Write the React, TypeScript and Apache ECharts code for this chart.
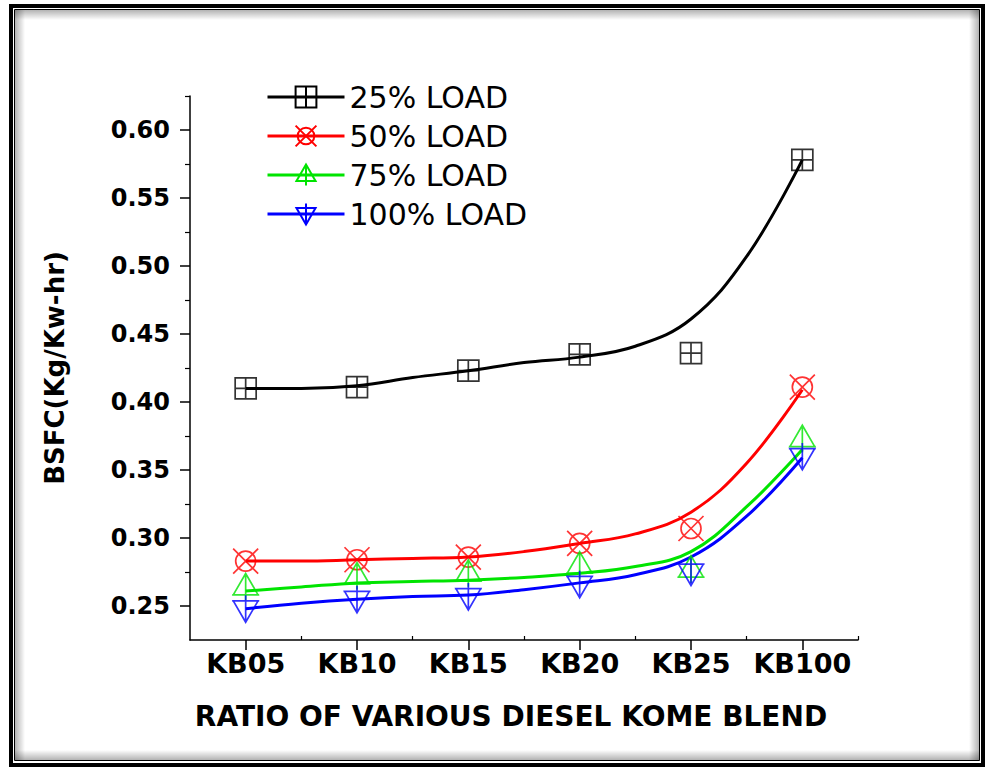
import { useEffect, useRef } from "react";
import * as echarts from "echarts";

// Blend ratios on the horizontal axis
const categories = ["KB05", "KB10", "KB15", "KB20", "KB25", "KB100"];
const loadNames = ["25% LOAD", "50% LOAD", "75% LOAD", "100% LOAD"];

// Measured brake specific fuel consumption (Kg/Kw-hr)
const load25 = [0.41, 0.411, 0.423, 0.435, 0.436, 0.578];
const load50 = [0.283, 0.284, 0.286, 0.296, 0.307, 0.411];
const load75 = [0.264, 0.272, 0.274, 0.28, 0.277, 0.373];
const load100 = [0.248, 0.255, 0.257, 0.266, 0.275, 0.36];

// Fitted trend curves, sampled at half-category steps
const fitPositions = [0, 0.5, 1, 1.5, 2, 2.5, 3, 3.5, 4, 4.5, 5];
const fit25 = [0.41, 0.41, 0.412, 0.418, 0.423, 0.429, 0.433, 0.441, 0.461, 0.507, 0.578];
const fit50 = [0.283, 0.283, 0.284, 0.285, 0.286, 0.29, 0.296, 0.303, 0.319, 0.355, 0.409];
const fit75 = [0.261, 0.264, 0.267, 0.268, 0.269, 0.271, 0.274, 0.279, 0.29, 0.323, 0.365];
const fit100 = [0.248, 0.252, 0.255, 0.257, 0.258, 0.262, 0.267, 0.273, 0.286, 0.316, 0.359];

// Axis ticks
const yMajorTicks = [0.25, 0.3, 0.35, 0.4, 0.45, 0.5, 0.55, 0.6];
const yMinorTicks = [0.275, 0.325, 0.375, 0.425, 0.475, 0.525, 0.575, 0.625];
const xMajorTicks = [0, 1, 2, 3, 4, 5];
const xMinorTicks = [0.5, 1.5, 2.5, 3.5, 4.5, 5.5];

const FONT = "DejaVu Sans";
const colors = ["#000000", "#ff0000", "#00e400", "#0000ff"];
const symbols = [
  "path://M0,0L20,0L20,20L0,20Z M10,0L10,20 M0,10L20,10",
  "path://M0,0L20,20 M20,0L0,20 M2,10A8,8,0,1,1,18,10A8,8,0,1,1,2,10Z",
  "path://M12,0L1,19L23,19Z M0,19L24,19 M12,0L12,24",
  "path://M12,24L1,5L23,5Z M0,5L24,5 M12,0L12,24",
];
const symbolSizes: (number | number[])[] = [21, 25, [27, 27], [27, 27]];

export default function App() {
  const ref = useRef<HTMLDivElement>(null);

  useEffect(() => {
    if (!ref.current) return;
    const chart = echarts.init(ref.current, undefined, { renderer: "svg" });

    const measured = [load25, load50, load75, load100];
    const fits = [fit25, fit50, fit75, fit100];

    const lineSeries = loadNames.map((name, i) => ({
      name,
      type: "line",
      xAxisIndex: 0,
      yAxisIndex: 0,
      data: fitPositions.map((p, k) => [p, fits[i][k]]),
      smooth: 0.4,
      showSymbol: false,
      symbol: symbols[i],
      symbolSize: symbolSizes[i],
      lineStyle: { color: colors[i], width: 3 },
      itemStyle: { color: "rgba(0,0,0,0)", borderColor: colors[i], borderWidth: 1.7 },
      emphasis: { disabled: true },
      z: 3,
    }));

    const markerSeries = loadNames.map((name, i) => ({
      name,
      type: "scatter",
      xAxisIndex: 0,
      yAxisIndex: 0,
      data: measured[i].map((v, k) => [k, v]),
      symbol: symbols[i],
      symbolSize: symbolSizes[i],
      itemStyle: { color: "rgba(0,0,0,0)", borderColor: colors[i], borderWidth: 1.7 },
      emphasis: { disabled: true },
      z: 4,
    }));

    const shadow = (x2: number, y2: number, reverse: boolean) => ({
      type: "linear",
      x: 0,
      y: 0,
      x2,
      y2,
      colorStops: reverse
        ? [
            { offset: 0, color: "rgba(0,0,0,0)" },
            { offset: 1, color: "rgba(0,0,0,0.3)" },
          ]
        : [
            { offset: 0, color: "rgba(0,0,0,0.3)" },
            { offset: 1, color: "rgba(0,0,0,0)" },
          ],
    });

    chart.setOption({
      animation: false,
      backgroundColor: "#ffffff",
      textStyle: { fontFamily: FONT },
      grid: { left: 190, right: 127, top: 96, bottom: 127, outerBoundsMode: "none" },
      legend: {
        data: loadNames,
        orient: "vertical",
        left: 261,
        top: 77,
        itemWidth: 77,
        itemHeight: 26,
        itemGap: 9,
        selectedMode: false,
        lineStyle: { width: 3 },
        textStyle: { fontFamily: FONT, fontSize: 30, color: "#000", lineHeight: 30 },
      },
      xAxis: [
        {
          type: "value",
          position: "bottom",
          min: -0.5,
          max: 5.5,
          axisLine: { show: true, onZero: false, lineStyle: { color: "#000", width: 1.5 } },
          axisTick: { show: true, length: 10, customValues: xMajorTicks, lineStyle: { color: "#000", width: 1.5 } },
          axisLabel: {
            customValues: xMajorTicks,
            formatter: (v: number) => categories[Math.round(v)] ?? "",
            margin: 10,
            color: "#000",
            fontFamily: FONT,
            fontWeight: "bold",
            fontSize: 27,
          },
          splitLine: { show: false },
          name: "RATIO OF VARIOUS DIESEL KOME BLEND",
          nameLocation: "middle",
          nameGap: 62,
          nameTextStyle: {
            fontFamily: FONT,
            fontWeight: "bold",
            fontSize: 28,
            color: "#000",
            padding: [0, 26, 0, 0],
          },
        },
        {
          type: "value",
          position: "bottom",
          min: -0.5,
          max: 5.5,
          axisLine: { show: false, onZero: false },
          axisTick: { show: true, inside: true, length: 4, customValues: xMinorTicks, lineStyle: { color: "#000", width: 1.2 } },
          axisLabel: { show: false },
          splitLine: { show: false },
        },
      ],
      yAxis: [
        {
          type: "value",
          position: "left",
          min: 0.225,
          max: 0.625,
          axisLine: { show: true, onZero: false, lineStyle: { color: "#000", width: 1.5 } },
          axisTick: { show: true, length: 10, customValues: yMajorTicks, lineStyle: { color: "#000", width: 1.5 } },
          axisLabel: {
            customValues: yMajorTicks,
            formatter: (v: number) => v.toFixed(2),
            margin: 20,
            color: "#000",
            fontFamily: FONT,
            fontWeight: "bold",
            fontSize: 24,
          },
          splitLine: { show: false },
          name: "BSFC(Kg/Kw-hr)",
          nameLocation: "middle",
          nameRotate: 90,
          nameGap: 122,
          nameTextStyle: { fontFamily: FONT, fontWeight: "bold", fontSize: 26, color: "#000" },
        },
        {
          type: "value",
          position: "left",
          min: 0.225,
          max: 0.625,
          axisLine: { show: false, onZero: false },
          axisTick: { show: true, length: 5, customValues: yMinorTicks, lineStyle: { color: "#000", width: 1.2 } },
          axisLabel: { show: false },
          splitLine: { show: false },
        },
      ],
      series: [...lineSeries, ...markerSeries],
      graphic: [
        // inner shadow of the picture frame
        { type: "rect", silent: true, shape: { x: 15, y: 10, width: 964, height: 10 }, style: { fill: shadow(0, 1, false) } },
        { type: "rect", silent: true, shape: { x: 15, y: 10, width: 10, height: 750 }, style: { fill: shadow(1, 0, false) } },
        { type: "rect", silent: true, shape: { x: 15, y: 750, width: 964, height: 10 }, style: { fill: shadow(0, 1, true) } },
        { type: "rect", silent: true, shape: { x: 969, y: 10, width: 10, height: 750 }, style: { fill: shadow(1, 0, true) } },
        // double black border
        { type: "rect", silent: true, shape: { x: 11, y: 6, width: 972, height: 759 }, style: { fill: "none", stroke: "#000", lineWidth: 4 } },
        { type: "rect", silent: true, shape: { x: 14.5, y: 9.5, width: 965, height: 751 }, style: { fill: "none", stroke: "#000", lineWidth: 1 } },
      ],
    });

    return () => chart.dispose();
  }, []);

  return (
    <div
      ref={ref}
      style={{ position: "fixed", left: 0, top: 0, width: 985, height: 767, background: "#fff" }}
    />
  );
}
